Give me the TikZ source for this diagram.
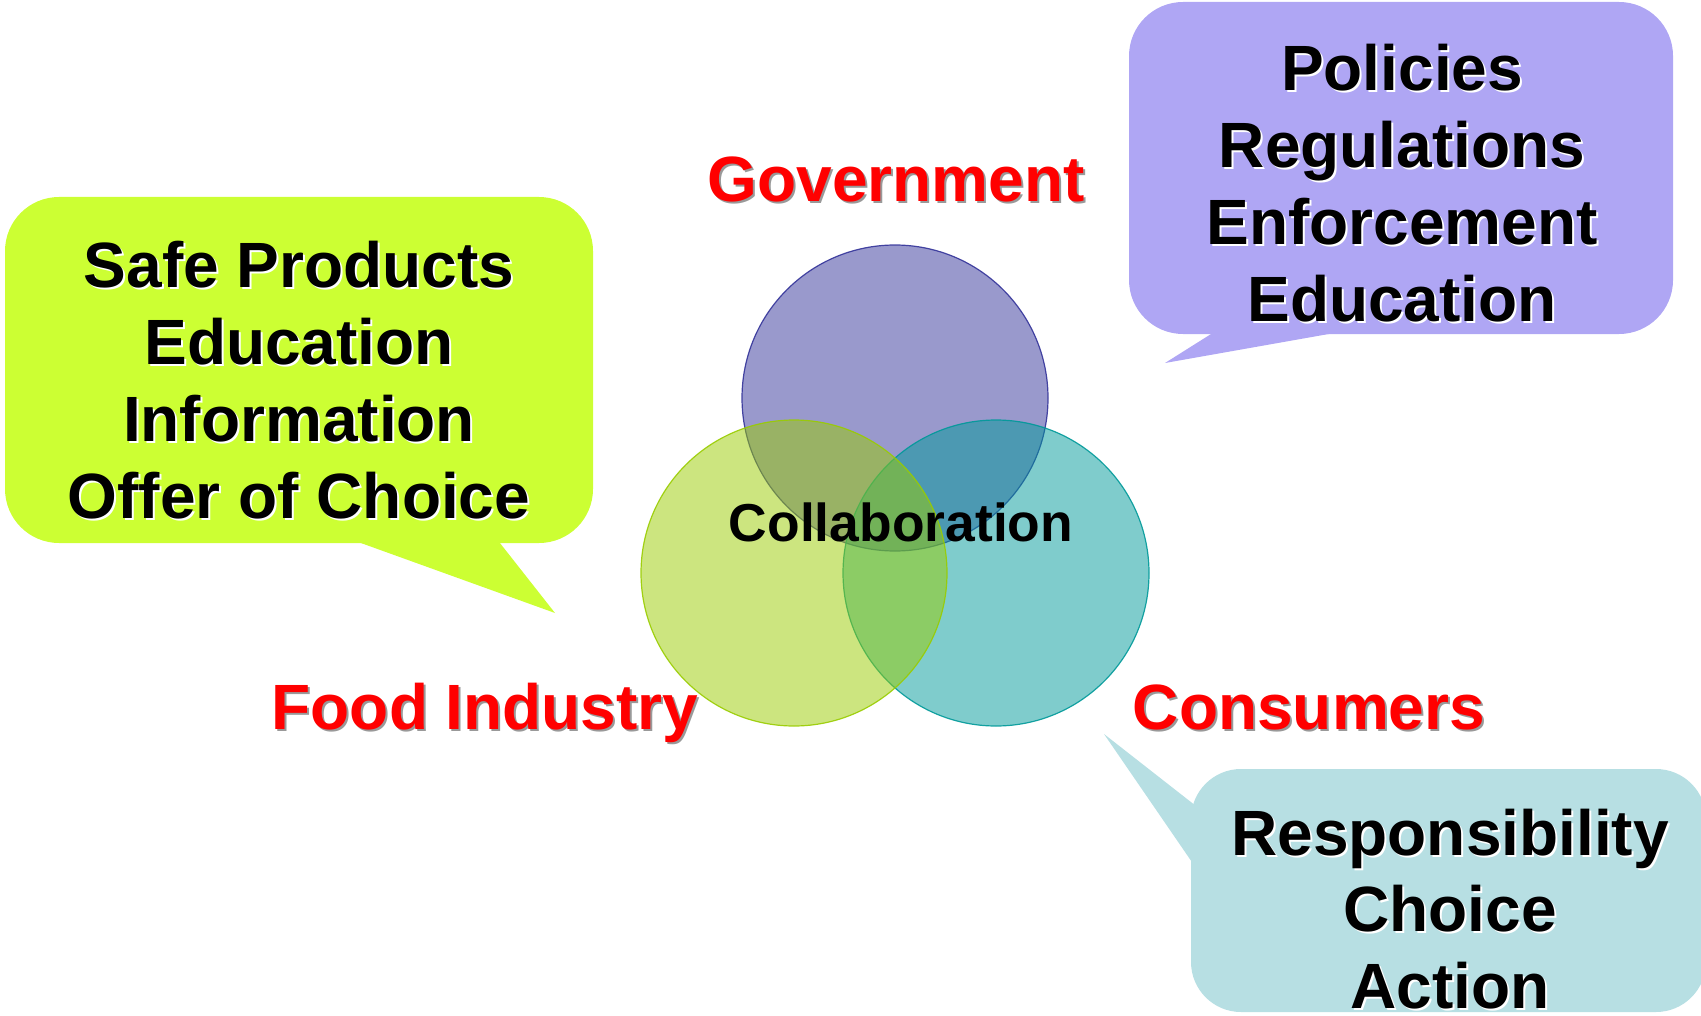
\documentclass[tikz,border=0pt]{standalone}
\usepackage{fontspec}
\setmainfont{Liberation Sans}

\definecolor{govblue}{RGB}{51,51,153}
\definecolor{indgreen}{RGB}{153,204,0}
\definecolor{custeal}{RGB}{0,153,153}
\definecolor{limefill}{RGB}{204,255,51}
\definecolor{lilacfill}{RGB}{175,166,244}
\definecolor{aquafill}{RGB}{183,223,227}

\begin{document}
\begin{tikzpicture}[x=0.5pt, y=-0.5pt,
        sector/.style={circle, draw=#1, fill=#1, fill opacity=0.5, draw opacity=0.9,
            line width=0.6pt, minimum size=153pt, inner sep=0pt},
        sectorname/.style={text=red, font=\fontsize{32}{38.4}\selectfont\bfseries,
            anchor=base, inner sep=0pt},
        sectorglow/.style={sectorname, text=black!40},
        listtext/.style={font=\fontsize{32}{38.4}\selectfont\bfseries,
            align=center, inner sep=0pt},
        listglow/.style={listtext, text=white}
    ]
        \useasboundingbox (0,0) rectangle (1701,1016);

        % Speech bubbles
        \fill[limefill, rounded corners=27pt] (5,197) rectangle (593,543);
        \fill[limefill] (347,538) -- (496,538) -- (555,613) -- cycle;
        \fill[lilacfill, rounded corners=27pt] (1129,2) rectangle (1673,334);
        \fill[lilacfill] (1219,329) -- (1357,329) -- (1165,363) -- cycle;
        \fill[aquafill, rounded corners=25pt] (1191,769) rectangle (1706,1012);
        \fill[aquafill] (1196,806) -- (1196,868) -- (1104,734) -- cycle;

        % Bubble texts
        \node[listglow] (indlistsh) at (301,382) {Safe Products\\Education\\Information\\Offer of Choice};
        \node[listtext] (indlist) at (299,380) {Safe Products\\Education\\Information\\Offer of Choice};
        \node[listglow] (govlistsh) at (1404,185) {Policies\\Regulations\\Enforcement\\Education};
        \node[listtext] (govlist) at (1402,183) {Policies\\Regulations\\Enforcement\\Education};
        \node[listglow] (conlistsh) at (1452,911) {Responsibility\\Choice\\Action};
        \node[listtext] (conlist) at (1450,909) {Responsibility\\Choice\\Action};

        % Circles
        \node[sector=govblue] (gov) at (895,398) {};
        \node[sector=custeal] (con) at (996,573) {};
        \node[sector=indgreen] (ind) at (794,573) {};
        \node[anchor=base, inner sep=0pt, font=\fontsize{26.7}{32}\selectfont\bfseries]
            (collab) at (901,541) {Collaboration};

        % Sector names
        \node[sectorglow] (govnamesh) at (898,204) {Government};
        \node[sectorname] (govname) at (896,202) {Government};
        \node[sectorglow] (indnamesh) at (487,731) {Food Industry};
        \node[sectorname] (indname) at (485,729) {Food Industry};
        \node[sectorglow] (connamesh) at (1311,731) {Consumers};
        \node[sectorname] (conname) at (1309,729) {Consumers};
    \end{tikzpicture}
\end{document}
